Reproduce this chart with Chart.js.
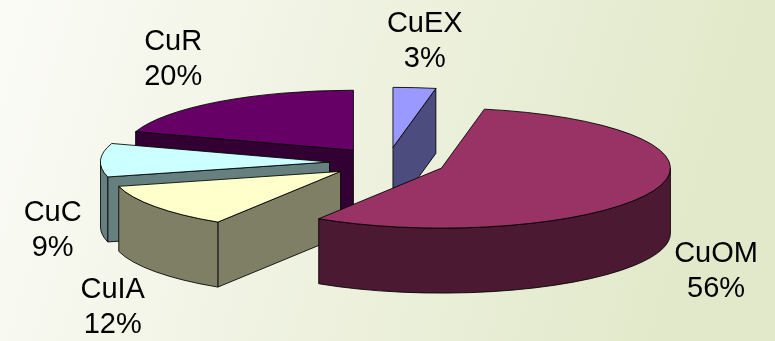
<!DOCTYPE html>
<html>
<head>
<meta charset="utf-8">
<script src="https://cdn.jsdelivr.net/npm/chart.js@4.4.1/dist/chart.umd.min.js"></script>
<style>
  html, body { margin: 0; padding: 0; overflow: hidden; }
  canvas { display: block; }
</style>
</head>
<body>
<canvas id="chart" width="775" height="341"></canvas>
<script>
// data
const categories = ["CuEX", "CuOM", "CuIA", "CuC", "CuR"];
const shares = [3, 56, 12, 9, 20];
const topColors = ["#9999FF", "#993366", "#FFFFCC", "#CCFFFF", "#660066"];

// halve a hex colour for the side walls
function darker(hex) {
  const n = parseInt(hex.slice(1), 16);
  const r = ((n >> 16) & 255) >> 1, g = ((n >> 8) & 255) >> 1, b = (n & 255) >> 1;
  return `rgb(${r}, ${g}, ${b})`;
}

const background = {
  id: "background",
  beforeDraw(chart) {
    const { ctx, width, height } = chart;
    const grad = ctx.createLinearGradient(0, 0, width * 0.9, height * 0.6);
    grad.addColorStop(0, "#fbfbf6");
    grad.addColorStop(1, "#e2e9ca");
    ctx.save();
    ctx.fillStyle = grad;
    ctx.fillRect(0, 0, width, height);
    ctx.restore();
  },
};

// draws the pie as an exploded 3D pie, using the arcs Chart.js computed
const pie3d = {
  id: "pie3d",
  beforeDatasetsDraw(chart, args, opts) {
    const { ctx } = chart;
    const meta = chart.getDatasetMeta(0);
    const ds = chart.data.datasets[0];
    const total = ds.data.reduce((a, b) => a + b, 0);
    const tilt = opts.tilt, depth = opts.depth;

    const slices = meta.data.map((arc, i) => {
      const rx = arc.outerRadius;
      const ry = rx * tilt;
      const mid = (arc.startAngle + arc.endAngle) / 2;
      const cx = arc.x + Math.cos(mid) * opts.explode;
      const cy = arc.y + Math.sin(mid) * opts.explode * tilt;
      const pt = (a, dz) => [cx + rx * Math.cos(a), cy + ry * Math.sin(a) + (dz || 0)];
      let maxY = Math.max(cy, pt(arc.startAngle)[1], pt(arc.endAngle)[1]);
      if (arc.startAngle < Math.PI / 2 && arc.endAngle > Math.PI / 2) maxY = cy + ry;
      return { i, arc, rx, ry, mid, cx, cy, pt, maxY };
    });

    const outline = () => {
      ctx.lineWidth = 1;
      ctx.strokeStyle = "rgba(0,0,0,0.85)";
      ctx.stroke();
    };

    slices
      .slice()
      .sort((a, b) => a.maxY - b.maxY)
      .forEach((s) => {
        const { arc, rx, ry, cx, cy, pt } = s;
        const top = ds.backgroundColor[s.i];
        const side = darker(top);
        const as = arc.startAngle, ae = arc.endAngle;
        ctx.save();
        ctx.lineJoin = "round";

        // radial faces that turn toward the viewer
        const face = (a) => {
          const r = pt(a);
          ctx.beginPath();
          ctx.moveTo(cx, cy);
          ctx.lineTo(r[0], r[1]);
          ctx.lineTo(r[0], r[1] + depth);
          ctx.lineTo(cx, cy + depth);
          ctx.closePath();
          ctx.fillStyle = side;
          ctx.fill();
          outline();
        };
        if (Math.cos(as) < -0.01) face(as);
        if (Math.cos(ae) > 0.01) face(ae);

        // outer wall, front half only
        const a1 = Math.max(as, 0), a2 = Math.min(ae, Math.PI);
        if (a2 > a1) {
          const p1 = pt(a1), p2 = pt(a2);
          ctx.beginPath();
          ctx.moveTo(p1[0], p1[1]);
          ctx.ellipse(cx, cy, rx, ry, 0, a1, a2);
          ctx.lineTo(p2[0], p2[1] + depth);
          ctx.ellipse(cx, cy + depth, rx, ry, 0, a2, a1, true);
          ctx.closePath();
          ctx.fillStyle = side;
          ctx.fill();
          outline();
        }

        // top
        ctx.beginPath();
        ctx.moveTo(cx, cy);
        ctx.ellipse(cx, cy, rx, ry, 0, as, ae);
        ctx.closePath();
        ctx.fillStyle = top;
        ctx.fill();
        outline();
        ctx.restore();
      });

    // labels: name + percent, outside each slice
    ctx.save();
    ctx.font = opts.font;
    ctx.fillStyle = "#000";
    ctx.textAlign = "center";
    ctx.textBaseline = "alphabetic";
    slices.forEach((s) => {
      const name = chart.data.labels[s.i];
      const pct = Math.round((ds.data[s.i] / total) * 100) + "%";
      const w = Math.max(ctx.measureText(name).width, ctx.measureText(pct).width);
      const h = opts.lineHeight * 2;
      const front = Math.sin(s.mid) > -0.1;
      const anchor = s.pt(s.mid, front ? depth : 0);
      const nudge = opts.nudge[s.i];
      const x = anchor[0] + Math.cos(s.mid) * (w / 2 + opts.gap) + nudge[0];
      const y = anchor[1] + Math.sin(s.mid) * (h / 2 + opts.gap) + nudge[1];
      const b1 = y - 7;
      ctx.fillText(name, x, b1);
      ctx.fillText(pct, x, b1 + opts.lineHeight);
    });
    ctx.restore();
    return false;
  },
};

new Chart(document.getElementById("chart"), {
  type: "pie",
  data: {
    labels: categories,
    datasets: [{ data: shares, backgroundColor: topColors, borderWidth: 0 }],
  },
  options: {
    responsive: false,
    animation: false,
    radius: 229,
    layout: { padding: { bottom: 16 } },
    events: [],
    plugins: {
      legend: { display: false },
      tooltip: { enabled: false },
      pie3d: {
        tilt: 0.262,
        depth: 65,
        explode: 58,
        gap: 18,
        lineHeight: 35,
        font: "29px 'Liberation Sans', Arial, sans-serif",
        nudge: [[5, 4], [6, -6], [-2, 2], [-1, 5], [-18, -2]],
      },
    },
  },
  plugins: [background, pie3d],
});
</script>
</body>
</html>
